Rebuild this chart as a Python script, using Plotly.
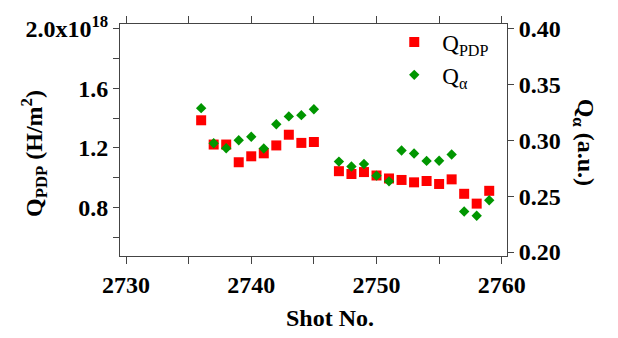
import plotly.graph_objects as go

shots = [2736, 2737, 2738, 2739, 2740, 2741, 2742, 2743, 2744, 2745,
         2747, 2748, 2749, 2750, 2751, 2752, 2753, 2754, 2755, 2756, 2757, 2758, 2759]
q_pdp = [1.386, 1.223, 1.223, 1.104, 1.144, 1.164, 1.217, 1.289, 1.234, 1.240,
         1.044, 1.025, 1.038, 1.015, 0.995, 0.985, 0.969, 0.978, 0.958, 0.989, 0.892, 0.826, 0.912]
q_alpha = [0.329, 0.2975, 0.2931, 0.3002, 0.3033, 0.2928, 0.3145, 0.3216, 0.3227, 0.3280,
           0.2811, 0.2767, 0.2790, 0.2685, 0.2634, 0.2910, 0.2884, 0.2817, 0.2819, 0.2875, 0.2364, 0.2326, 0.2464]

x_ticks = [2730, 2735, 2740, 2745, 2750, 2755, 2760]
x_ticktext = ["2730", "", "2740", "", "2750", "", "2760"]
y1_ticks = [0.6, 0.8, 1.0, 1.2, 1.4, 1.6, 1.8, 2.0]
y1_ticktext = ["", "0.8", "", "1.2", "", "1.6", "", "2.0x10<sup>18</sup>"]
y2_ticks = [0.20, 0.25, 0.30, 0.35, 0.40]
y2_ticktext = ["0.20", "0.25", "0.30", "0.35", "0.40"]

SERIF = "Liberation Serif"
AX = "#444444"
tickfont = dict(family=SERIF, size=24, color="black", weight="bold")

fig = go.Figure()
fig.add_trace(go.Scatter(
    x=shots, y=[v * 1e18 for v in q_pdp], mode="markers", name="Q<sub>PDP</sub>",
    marker=dict(symbol="square", size=10, color="#ff0000", line=dict(width=0)),
    yaxis="y"))
fig.add_trace(go.Scatter(
    x=shots, y=q_alpha, mode="markers", name="Q<sub>α</sub>",
    marker=dict(symbol="diamond", size=8, color="#009600", line=dict(width=0)),
    yaxis="y2"))

fig.update_layout(
    width=618, height=338,
    margin=dict(l=120, r=111, t=20, b=82),
    plot_bgcolor="white", paper_bgcolor="white",
    showlegend=True,
    legend=dict(x=0.688, y=1.015, xanchor="left", yanchor="top",
                font=dict(family=SERIF, size=23, color="black"),
                bgcolor="rgba(0,0,0,0)", itemwidth=46, tracegroupgap=0),
    xaxis=dict(range=[2729.52, 2760.42], tickvals=x_ticks, ticktext=x_ticktext,
               ticks="outside", ticklen=7, tickcolor=AX, tickwidth=1,
               showline=True, linecolor=AX, linewidth=1, mirror="allticks",
               showgrid=False, zeroline=False, tickfont=tickfont),
    yaxis=dict(range=[0.474e18, 2.033e18], tickvals=[v * 1e18 for v in y1_ticks],
               ticktext=y1_ticktext, ticks="outside", ticklen=6, tickcolor=AX,
               showline=True, linecolor=AX, linewidth=1, showgrid=False,
               zeroline=False, tickfont=tickfont),
    yaxis2=dict(range=[0.1965, 0.4044], tickvals=y2_ticks, ticktext=y2_ticktext,
                overlaying="y", side="right", ticks="outside", ticklen=6,
                tickcolor=AX, showline=True, linecolor=AX, linewidth=1,
                showgrid=False, zeroline=False, tickfont=tickfont),
    annotations=[
        dict(text="Q<sub>PDP</sub> (H/m<sup>2</sup>)", xref="paper", yref="paper",
             x=-0.222, y=0.44, xanchor="center", yanchor="middle", textangle=-90,
             showarrow=False, font=dict(family=SERIF, size=24, color="black", weight="bold")),
        dict(text="Q<sub>α</sub> (a.u.)", xref="paper", yref="paper",
             x=1.198, y=0.49, xanchor="center", yanchor="middle", textangle=90,
             showarrow=False, font=dict(family=SERIF, size=24, color="black", weight="bold")),
        dict(text="Shot No.", xref="paper", yref="paper",
             x=0.543, y=-0.267, xanchor="center", yanchor="middle",
             showarrow=False, font=dict(family=SERIF, size=24, color="black", weight="bold")),
    ],
)

fig.write_html("out.html")
